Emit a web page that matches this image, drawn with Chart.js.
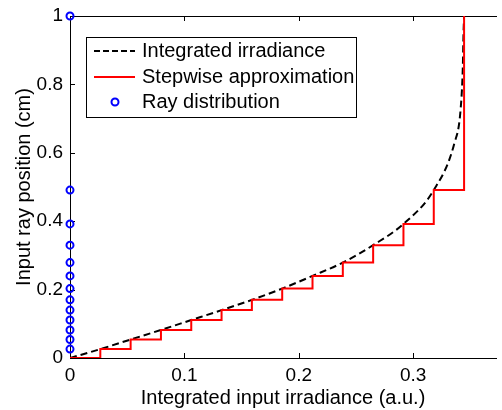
<!DOCTYPE html>
<html lang="en">
<head>
    <meta charset="UTF-8">
    <title>Ray distribution</title>
    <script src="https://cdn.jsdelivr.net/npm/chart.js"></script>
    <style>
        html, body { margin: 0; padding: 0; background: #fff; overflow: hidden; }
        canvas { display: block; }
    </style>
</head>
<body>
    <canvas id="rayChart" width="502" height="410"></canvas>

    <script>
        // cumulative irradiance at each step edge and the ray position reached there
        const stepIrradiance = [0, 0.0265, 0.053, 0.0795, 0.106, 0.1325, 0.159, 0.1855, 0.212, 0.2385, 0.265, 0.2915, 0.318, 0.3445];
        const stepPosition   = [0, 0.026, 0.054, 0.082, 0.111, 0.140, 0.170, 0.203, 0.240, 0.279, 0.330, 0.392, 0.491, 1.0];

        // smooth integrated irradiance curve
        const curveIrradiance = [0, 0.0265, 0.053, 0.0795, 0.106, 0.1325, 0.159, 0.1855, 0.212, 0.2385, 0.265, 0.2915, 0.318, 0.336, 0.3414, 0.3434, 0.344, 0.3445];
        const curvePosition   = [0, 0.026, 0.054, 0.082, 0.111, 0.140, 0.170, 0.203, 0.240, 0.279, 0.330, 0.392, 0.491, 0.628, 0.725, 0.852, 0.949, 1.0];

        // rays launched at the input plane
        const rayPositions = [0.026, 0.054, 0.082, 0.111, 0.140, 0.170, 0.203, 0.240, 0.279, 0.330, 0.392, 0.491, 1.0];

        const xTicks = [0, 0.1, 0.2, 0.3];
        const yTicks = [0, 0.2, 0.4, 0.6, 0.8, 1];

        const FAMILY = 'Arial, "Liberation Sans", sans-serif';
        const TICK_FONT = { family: FAMILY, size: 19 };
        const LABEL_FONT = { family: FAMILY, size: 20 };

        const toPoints = (xs, ys) => xs.map((x, i) => ({ x: x, y: ys[i] }));

        // axes box with inward tick marks (left, bottom, top)
        const frame = {
            id: 'frame',
            beforeDatasetsDraw(chart) {
                const { ctx, chartArea: a, scales } = chart;
                ctx.save();
                ctx.strokeStyle = '#000';
                ctx.lineWidth = 1;
                ctx.beginPath();
                ctx.moveTo(a.right + 1, a.top + 0.5);
                ctx.lineTo(a.left + 0.5, a.top + 0.5);
                ctx.lineTo(a.left + 0.5, a.bottom + 0.5);
                ctx.lineTo(a.right + 1, a.bottom + 0.5);
                xTicks.forEach(v => {
                    const px = Math.round(scales.x.getPixelForValue(v)) + 0.5;
                    ctx.moveTo(px, a.bottom); ctx.lineTo(px, a.bottom - 5);
                    ctx.moveTo(px, a.top); ctx.lineTo(px, a.top + 5);
                });
                yTicks.forEach(v => {
                    const py = Math.round(scales.y.getPixelForValue(v)) + 0.5;
                    ctx.moveTo(a.left, py); ctx.lineTo(a.left + 5, py);
                });
                ctx.stroke();
                ctx.restore();
            },
            afterDraw(chart) {
                const ctx = chart.ctx;
                const box = { x: 86, y: 37, w: 270, h: 80 };
                ctx.save();
                ctx.fillStyle = '#fff';
                ctx.fillRect(box.x, box.y, box.w, box.h);
                ctx.strokeStyle = '#000';
                ctx.lineWidth = 1;
                ctx.strokeRect(box.x + 0.5, box.y + 0.5, box.w, box.h);

                const rows = [51, 77, 102];
                // dashed sample
                ctx.lineWidth = 2;
                ctx.strokeStyle = '#000';
                ctx.setLineDash([6, 3]);
                ctx.beginPath(); ctx.moveTo(94, rows[0]); ctx.lineTo(135, rows[0]); ctx.stroke();
                ctx.setLineDash([]);
                // solid red sample
                ctx.strokeStyle = '#ff0000';
                ctx.beginPath(); ctx.moveTo(94, rows[1]); ctx.lineTo(135, rows[1]); ctx.stroke();
                // ray marker
                ctx.strokeStyle = '#0000ff';
                ctx.beginPath(); ctx.arc(115, rows[2], 3.5, 0, Math.PI * 2); ctx.stroke();

                ctx.fillStyle = '#000';
                ctx.font = LABEL_FONT.size + 'px ' + LABEL_FONT.family;
                ctx.textBaseline = 'middle';
                ctx.textAlign = 'left';
                ctx.fillText('Integrated irradiance', 142, rows[0]);
                ctx.fillText('Stepwise approximation', 142, rows[1]);
                ctx.fillText('Ray distribution', 142, rows[2]);
                ctx.restore();
            }
        };

        new Chart(document.getElementById('rayChart'), {
            type: 'scatter',
            data: {
                datasets: [
                    {
                        label: 'Ray distribution',
                        data: rayPositions.map(y => ({ x: 0, y: y })),
                        showLine: false,
                        pointStyle: 'circle',
                        pointRadius: 3.5,
                        pointBorderWidth: 2,
                        pointBorderColor: '#0000ff',
                        pointBackgroundColor: 'rgba(0,0,0,0)',
                        clip: false,
                        order: 0
                    },
                    {
                        label: 'Stepwise approximation',
                        data: toPoints(stepIrradiance, stepPosition),
                        showLine: true,
                        stepped: 'before',
                        borderColor: '#ff0000',
                        borderWidth: 2,
                        pointRadius: 0,
                        order: 1
                    },
                    {
                        label: 'Integrated irradiance',
                        data: toPoints(curveIrradiance, curvePosition),
                        showLine: true,
                        cubicInterpolationMode: 'monotone',
                        borderColor: '#000',
                        borderWidth: 2,
                        borderDash: [7, 4],
                        pointRadius: 0,
                        order: 2
                    }
                ]
            },
            options: {
                responsive: false,
                animation: false,
                layout: { padding: { top: 16, right: 0, left: 0, bottom: 0 } },
                plugins: {
                    legend: { display: false },
                    tooltip: { enabled: false }
                },
                scales: {
                    x: {
                        type: 'linear',
                        min: 0,
                        max: 0.3724,
                        afterFit: s => { s.height = 52; s.paddingLeft = 0; s.paddingRight = 0; },
                        afterBuildTicks: s => { s.ticks = xTicks.map(v => ({ value: v })); },
                        ticks: { font: TICK_FONT, color: '#000', padding: 6, maxRotation: 0, callback: v => String(+v.toFixed(1)) },
                        grid: { display: false, drawTicks: false },
                        border: { display: false },
                        title: { display: true, text: 'Integrated input irradiance (a.u.)', font: LABEL_FONT, color: '#000', padding: { top: 0, bottom: 0 } }
                    },
                    y: {
                        type: 'linear',
                        min: 0,
                        max: 1,
                        afterFit: s => { s.width = 70; s.paddingTop = 0; s.paddingBottom = 0; },
                        afterBuildTicks: s => { s.ticks = yTicks.map(v => ({ value: v })); },
                        ticks: { font: TICK_FONT, color: '#000', padding: 7, callback: v => String(+v.toFixed(1)) },
                        grid: { display: false, drawTicks: false },
                        border: { display: false },
                        title: { display: true, text: 'Input ray position (cm)', font: LABEL_FONT, color: '#000', padding: { top: 12, bottom: 0 } }
                    }
                }
            },
            plugins: [frame]
        });
    </script>
</body>
</html>
